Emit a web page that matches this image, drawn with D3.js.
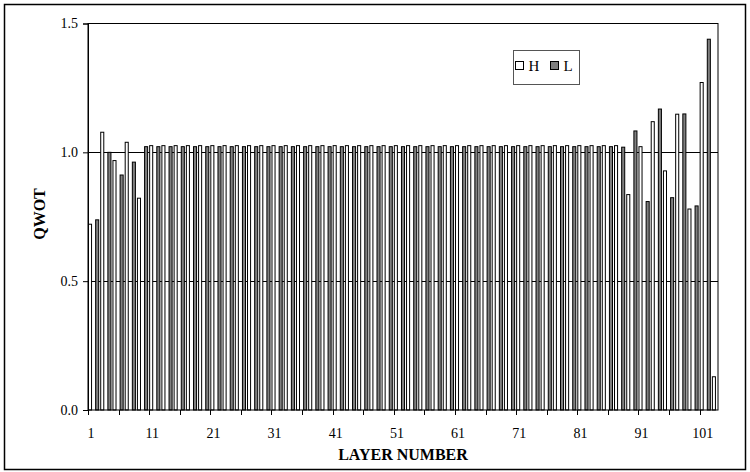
<!DOCTYPE html>
<html>
<head>
<meta charset="utf-8">
<script src="https://cdn.jsdelivr.net/npm/d3@7"></script>
<style>
  body { margin: 0; background: #fff; }
  text { font-family: "Liberation Serif", "Times New Roman", serif; }
</style>
</head>
<body>
<div id="chart-area"></div>
<script>

// layer numbers 1..103 ; H on odd layers, L on even layers
var layers = d3.range(1, 104);
var hLayers = layers.filter(function(d){ return d % 2 == 1; });
var lLayers = layers.filter(function(d){ return d % 2 == 0; });

// H: layers 1,3,...,103
var hValues = [0.721, 1.078, 0.968, 1.039, 0.822,
  1.026, 1.026, 1.026, 1.026, 1.026, 1.026, 1.026, 1.026, 1.026, 1.026,
  1.026, 1.026, 1.026, 1.026, 1.026, 1.026, 1.026, 1.026, 1.026, 1.026,
  1.026, 1.026, 1.026, 1.026, 1.026, 1.026, 1.026, 1.026, 1.026, 1.026,
  1.026, 1.026, 1.026, 1.026, 1.026, 1.026, 1.026, 1.026, 1.026,
  0.836, 1.022, 1.119, 0.928, 1.148, 0.780, 1.271, 0.129];

// L: layers 2,4,...,102
var lValues = [0.738, 1.000, 0.912, 0.962,
  1.022, 1.022, 1.022, 1.022, 1.022, 1.022, 1.022, 1.022, 1.022, 1.022,
  1.022, 1.022, 1.022, 1.022, 1.022, 1.022, 1.022, 1.022, 1.022, 1.022,
  1.022, 1.022, 1.022, 1.022, 1.022, 1.022, 1.022, 1.022, 1.022, 1.022,
  1.022, 1.022, 1.022, 1.022, 1.022, 1.022, 1.022, 1.022, 1.022, 1.020,
  1.083, 0.809, 1.168, 0.824, 1.149, 0.792, 1.439];

var yTicks = [0, 0.5, 1.0, 1.5];
var xTickLayers = d3.range(1, 104, 5);    // tick marks
var xLabelLayers = d3.range(1, 104, 10);  // labels 1, 11, ... 101
var seriesNames = ["H", "L"];
var seriesColors = ["#ffffff", "#808080"];

var total_width = 750;
var total_height = 472;

var svg = d3.select('#chart-area').append('svg')
            .attr("width", total_width)
            .attr("height", total_height);

// outer chart border
svg.append('rect')
   .attr("x", 4.5).attr("y", 4.5)
   .attr("width", 741).attr("height", 465)
   .attr("fill", "#fff")
   .attr("stroke", "#000")
   .attr("stroke-width", 1.5);

var plot = {left: 88, right: 718, top: 23.5, bottom: 410};

var x = d3.scaleBand().domain(layers).range([plot.left, plot.right]).padding(0);
var y = d3.scaleLinear().domain([0, 1.5]).range([plot.bottom, plot.top]);
var bw = x.bandwidth();

var chart = svg.append('g');

// gridlines
chart.selectAll('.grid').data([0.5, 1.0]).enter().append('line')
     .attr("class", "grid")
     .attr("x1", plot.left).attr("x2", plot.right)
     .attr("y1", (d) => Math.round(y(d)) + 0.5)
     .attr("y2", (d) => Math.round(y(d)) + 0.5)
     .attr("stroke", "#000")
     .attr("stroke-width", 1);

// bars
chart.selectAll('.hbar').data(hValues).enter().append('rect')
     .attr("class", "hbar")
     .attr("x", (d, i) => x(hLayers[i]) + bw * 0.08)
     .attr("y", (d) => y(d))
     .attr("width", bw * 0.5)
     .attr("height", (d) => y(0) - y(d))
     .attr("fill", seriesColors[0])
     .attr("stroke", "#000")
     .attr("stroke-width", 1);

chart.selectAll('.lbar').data(lValues).enter().append('rect')
     .attr("class", "lbar")
     .attr("x", (d, i) => x(lLayers[i]) + bw * 0.25)
     .attr("y", (d) => y(d))
     .attr("width", bw * 0.5)
     .attr("height", (d) => y(0) - y(d))
     .attr("fill", seriesColors[1])
     .attr("stroke", "#000")
     .attr("stroke-width", 1);

// plot area border
chart.append('rect')
     .attr("x", plot.left).attr("y", plot.top)
     .attr("width", plot.right - plot.left)
     .attr("height", plot.bottom - plot.top)
     .attr("fill", "none")
     .attr("stroke", "#000")
     .attr("stroke-width", 1);

// y axis
var yAxis = d3.axisLeft(y).tickValues(yTicks).tickSize(5).tickPadding(5)
              .tickFormat(d3.format(".1f"));
var yg = chart.append('g')
     .attr("transform", "translate(" + plot.left + ",0)")
     .call(yAxis);
yg.selectAll("text").attr("font-size", "14px").attr("fill", "#000")
  .attr("font-family", "Liberation Serif");
yg.selectAll("line, path").attr("stroke", "#000");

// x axis ticks at category boundaries
chart.selectAll('.xtick').data(xTickLayers).enter().append('line')
     .attr("class", "xtick")
     .attr("x1", (d) => Math.round(x(d)) + 0.5)
     .attr("x2", (d) => Math.round(x(d)) + 0.5)
     .attr("y1", plot.bottom).attr("y2", plot.bottom + 5)
     .attr("stroke", "#000");

chart.selectAll('.xlabel').data(xLabelLayers).enter().append('text')
     .attr("class", "xlabel")
     .attr("x", (d) => x(d) + bw / 2)
     .attr("y", 438)
     .attr("text-anchor", "middle")
     .attr("font-size", "14px")
     .text((d) => d);

// axis titles
svg.append('text')
   .attr("x", (plot.left + plot.right) / 2)
   .attr("y", 460)
   .attr("text-anchor", "middle")
   .attr("font-size", "16px")
   .attr("font-weight", "bold")
   .text("LAYER NUMBER");

svg.append('text')
   .attr("transform", "translate(45,214) rotate(-90)")
   .attr("text-anchor", "middle")
   .attr("font-size", "16px")
   .attr("font-weight", "bold")
   .text("QWOT");

// legend
var legend = svg.append('g').attr("transform", "translate(513.5,50.5)");
legend.append('rect')
      .attr("width", 66).attr("height", 34)
      .attr("fill", "#fff")
      .attr("stroke", "#555")
      .attr("stroke-width", 1);

var items = legend.selectAll('.item').data(seriesNames).enter().append('g')
      .attr("class", "item")
      .attr("transform", (d, i) => "translate(" + (2 + i * 35) + ",0)");
items.append('rect')
     .attr("y", 11).attr("width", 8).attr("height", 8)
     .attr("fill", (d, i) => seriesColors[i])
     .attr("stroke", "#000");
items.append('text')
     .attr("x", 13).attr("y", 20.5)
     .attr("font-size", "15px")
     .text((d) => d);

</script>
</body>
</html>
